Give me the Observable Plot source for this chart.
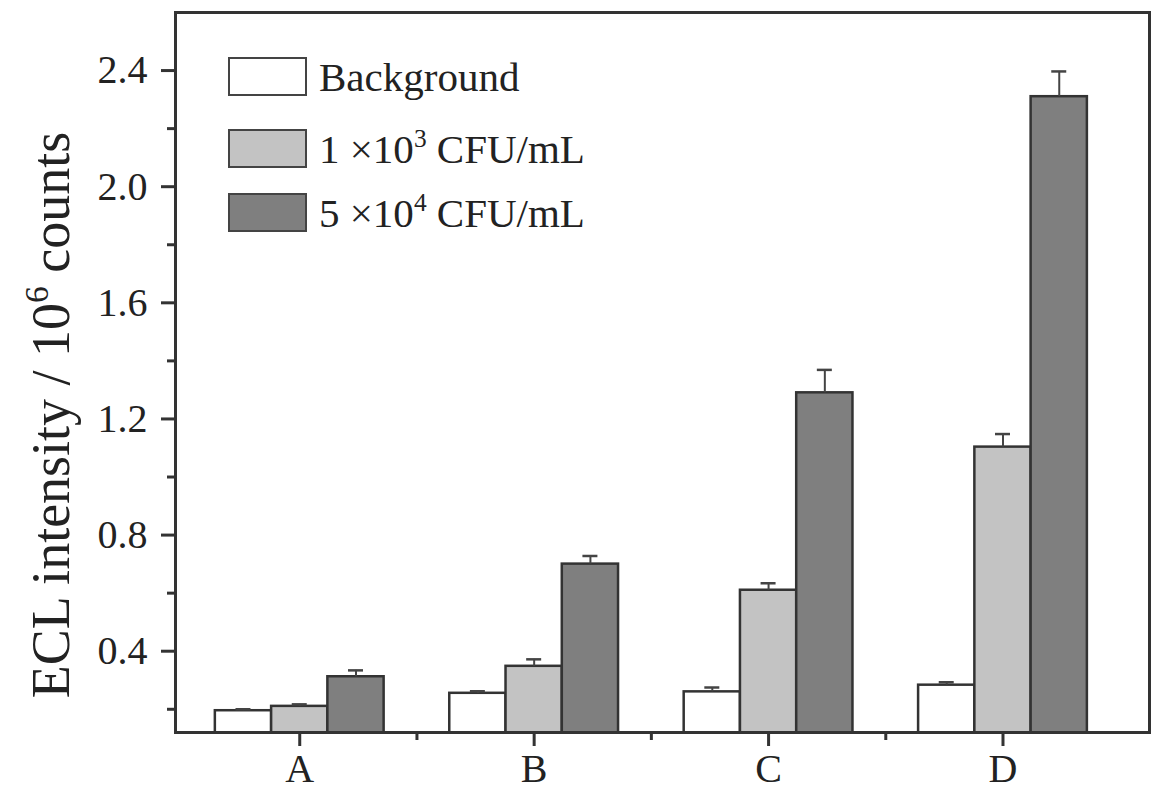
<!DOCTYPE html>
<html>
<head>
<meta charset="utf-8">
<script src="https://cdn.jsdelivr.net/npm/d3@7"></script>
<script src="https://cdn.jsdelivr.net/npm/@observablehq/plot@0.6"></script>
<style>
  body { margin: 0; background: white; }
  #wrap { position: relative; width: 1159px; height: 792px; font-family: 'Liberation Serif', 'Times New Roman', serif; color: #222; }
  #wrap svg { position: absolute; left: 0; top: 0; }
  #wrap svg g[aria-label$="tick"], #wrap svg g[aria-label$="tick"] * { stroke-width: 3px !important; stroke: #333 !important; stroke-opacity: 1 !important; }
  .sup { font-size: 0.62em; vertical-align: 0.62em; line-height: 0; }
  #ytitle { position: absolute; left: 51px; top: 415px; transform: translate(-50%, -50%) rotate(-90deg); white-space: nowrap; font-size: 54px; line-height: 1; }
  .lg { position: absolute; left: 228px; height: 39px; display: flex; align-items: center; font-size: 41px; white-space: nowrap; }
  .lg .box { width: 75px; height: 35px; border: 2.5px solid #444; margin-right: 12px; flex: none; }
</style>
</head>
<body>
<div id="wrap"></div>
<script>
// ---- data ----
const groups = ["A", "B", "C", "D"];
const seriesNames = ["Background", "1 ×10³ CFU/mL", "5 ×10⁴ CFU/mL"];
const seriesHtml = ["Background", "1 ×10<span class='sup'>3</span> CFU/mL", "5 ×10<span class='sup'>4</span> CFU/mL"];
const seriesFill = ["#ffffff", "#c3c3c3", "#7f7f7f"];
const background = [0.195, 0.255, 0.260, 0.283];
const low = [0.210, 0.348, 0.610, 1.103];
const high = [0.312, 0.700, 1.290, 2.310];
const backgroundErr = [0.005, 0.007, 0.015, 0.010];
const lowErr = [0.007, 0.024, 0.024, 0.045];
const highErr = [0.022, 0.028, 0.079, 0.087];
const yMajor = [0.4, 0.8, 1.2, 1.6, 2.0, 2.4];
const yMinor = [0.2, 0.6, 1.0, 1.4, 1.8, 2.2];
const xMinor = [1.5, 2.5, 3.5];

const values = [background, low, high];
const errs = [backgroundErr, lowErr, highErr];
const rows = groups.flatMap((g, gi) => seriesNames.map((s, si) => ({g, gi, s, si, v: values[si][gi], e: errs[si][gi]})));

const BW = 0.24;   // bar width in group units
const CAP = 0.032; // half cap width
const cx = d => d.gi + 1 + (d.si - 1) * BW;

const chart = Plot.plot({
  width: 1159, height: 792,
  marginLeft: 175, marginRight: 10, marginTop: 12, marginBottom: 60,
  style: {fontFamily: "'Liberation Serif', 'Times New Roman', serif", fontSize: "40px", color: "#222", background: "white"},
  x: {type: "linear", domain: [0.47, 4.625]},
  y: {domain: [0.12, 2.6]},
  color: {domain: seriesNames, range: seriesFill},
  marks: [
    Plot.rectY(rows, {x1: d => cx(d) - BW / 2, x2: d => cx(d) + BW / 2, y1: 0, y2: "v", fill: "s", stroke: "#333", strokeWidth: 2.5, clip: true}),
    Plot.ruleX(rows, {x: cx, y1: "v", y2: d => d.v + d.e, stroke: "#444", strokeWidth: 2}),
    Plot.ruleY(rows, {y: d => d.v + d.e, x1: d => cx(d) - CAP, x2: d => cx(d) + CAP, stroke: "#444", strokeWidth: 2.5}),
    Plot.axisX({ticks: [1, 2, 3, 4], tickFormat: i => groups[i - 1], tickSize: 14, tickPadding: 7, label: null, stroke: "#333", strokeWidth: 3}),
    Plot.axisX({ticks: xMinor, tickSize: 8, tickFormat: () => "", label: null, stroke: "#333", strokeWidth: 3}),
    Plot.axisY({ticks: yMajor, tickSize: 14, tickPadding: 14, tickFormat: d => d.toFixed(1), label: null, stroke: "#333", strokeWidth: 3}),
    Plot.axisY({ticks: yMinor, tickSize: 8, tickFormat: () => "", label: null, stroke: "#333", strokeWidth: 3}),
    Plot.frame({stroke: "#333", strokeWidth: 3})
  ]
});

const wrap = document.getElementById("wrap");
wrap.appendChild(chart);

const yt = document.createElement("div");
yt.id = "ytitle";
yt.innerHTML = "ECL intensity / 10<span class='sup'>6</span> counts";
wrap.appendChild(yt);

const legendTops = [57, 129, 193];
seriesNames.forEach((s, i) => {
  const row = document.createElement("div");
  row.className = "lg";
  row.style.top = legendTops[i] + "px";
  row.innerHTML = `<div class="box" style="background:${seriesFill[i]}"></div><span>${seriesHtml[i]}</span>`;
  wrap.appendChild(row);
});
</script>
</body>
</html>
